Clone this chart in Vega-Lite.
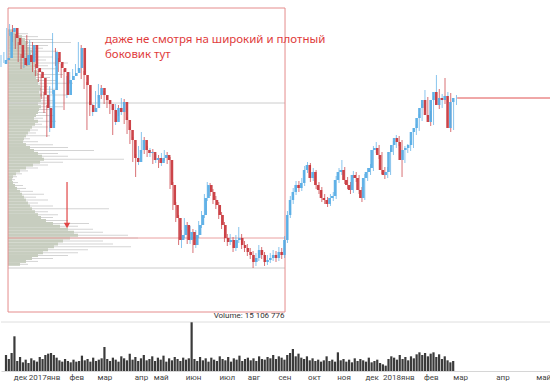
{
"$schema": "https://vega.github.io/schema/vega-lite/v6.json",
"width": 550, "height": 371, "padding": 0,
"autosize": {"type": "pad"},
"background": "white",
"config": {"view": {"stroke": null}},
"datasets": {
"c": [
{"d":0,"o":336,"h":345,"l":333,"c":340,"v":24},{"d":2,"o":340,"h":348,"l":337,"c":342,"v":18},{"d":4,"o":342,"h":372,"l":339,"c":368,"v":27},{"d":6,"o":368,"h":376,"l":364,"c":372,"v":52},
{"d":8,"o":372,"h":375,"l":358,"c":362,"v":15},{"d":10,"o":362,"h":366,"l":351,"c":355,"v":21},{"d":12,"o":355,"h":358,"l":338,"c":342,"v":13},{"d":14,"o":342,"h":346,"l":331,"c":335,"v":17},
{"d":16,"o":335,"h":350,"l":332,"c":345,"v":12},{"d":18,"o":345,"h":365,"l":334,"c":338,"v":19},{"d":20,"o":338,"h":360,"l":335,"c":355,"v":16},{"d":22,"o":355,"h":358,"l":328,"c":332,"v":14},
{"d":24,"o":332,"h":336,"l":324,"c":328,"v":21},{"d":26,"o":328,"h":331,"l":318,"c":322,"v":18},{"d":28,"o":322,"h":325,"l":301,"c":305,"v":24},{"d":30,"o":305,"h":308,"l":287,"c":292,"v":26},
{"d":32,"o":292,"h":295,"l":263,"c":272,"v":27},{"d":34,"o":272,"h":314,"l":268,"c":310,"v":24},{"d":36,"o":310,"h":367,"l":306,"c":348,"v":20},{"d":38,"o":348,"h":352,"l":334,"c":338,"v":16},
{"d":40,"o":338,"h":342,"l":328,"c":332,"v":14},{"d":42,"o":332,"h":336,"l":322,"c":328,"v":18},{"d":44,"o":328,"h":331,"l":290,"c":305,"v":15},{"d":46,"o":305,"h":324,"l":302,"c":320,"v":13},
{"d":48,"o":320,"h":328,"l":317,"c":324,"v":17},{"d":50,"o":324,"h":331,"l":320,"c":327,"v":14},{"d":52,"o":327,"h":336,"l":324,"c":332,"v":15},{"d":54,"o":332,"h":358,"l":329,"c":352,"v":23},
{"d":56,"o":352,"h":355,"l":321,"c":325,"v":16},{"d":58,"o":325,"h":329,"l":311,"c":315,"v":18},{"d":60,"o":315,"h":318,"l":270,"c":295,"v":14},{"d":62,"o":295,"h":299,"l":284,"c":288,"v":20},
{"d":64,"o":288,"h":296,"l":284,"c":292,"v":15},{"d":66,"o":292,"h":309,"l":289,"c":305,"v":17},{"d":68,"o":305,"h":316,"l":302,"c":312,"v":19},{"d":70,"o":312,"h":315,"l":301,"c":305,"v":36},
{"d":72,"o":305,"h":309,"l":296,"c":300,"v":18},{"d":74,"o":300,"h":304,"l":292,"c":296,"v":15},{"d":76,"o":296,"h":299,"l":286,"c":290,"v":20},{"d":78,"o":290,"h":294,"l":265,"c":278,"v":17},
{"d":80,"o":278,"h":296,"l":275,"c":292,"v":14},{"d":82,"o":292,"h":295,"l":284,"c":288,"v":22},{"d":84,"o":288,"h":302,"l":285,"c":298,"v":19},{"d":86,"o":298,"h":301,"l":276,"c":280,"v":16},
{"d":88,"o":280,"h":283,"l":266,"c":270,"v":26},{"d":90,"o":270,"h":273,"l":256,"c":260,"v":17},{"d":92,"o":260,"h":263,"l":238,"c":242,"v":21},{"d":94,"o":242,"h":246,"l":223,"c":238,"v":15},
{"d":96,"o":238,"h":254,"l":235,"c":250,"v":19},{"d":98,"o":250,"h":268,"l":247,"c":260,"v":24},{"d":100,"o":260,"h":263,"l":246,"c":250,"v":16},{"d":102,"o":250,"h":254,"l":243,"c":247,"v":18},
{"d":104,"o":247,"h":252,"l":243,"c":248,"v":22},{"d":106,"o":248,"h":251,"l":236,"c":240,"v":15},{"d":108,"o":240,"h":246,"l":237,"c":242,"v":20},{"d":110,"o":242,"h":245,"l":232,"c":237,"v":17},
{"d":112,"o":237,"h":247,"l":234,"c":242,"v":23},{"d":114,"o":242,"h":250,"l":239,"c":245,"v":14},{"d":116,"o":245,"h":248,"l":236,"c":240,"v":19},{"d":118,"o":240,"h":243,"l":211,"c":215,"v":16},
{"d":120,"o":215,"h":218,"l":190,"c":195,"v":21},{"d":122,"o":195,"h":198,"l":178,"c":182,"v":18},{"d":124,"o":182,"h":185,"l":155,"c":160,"v":15},{"d":126,"o":160,"h":170,"l":152,"c":165,"v":20},
{"d":128,"o":165,"h":182,"l":162,"c":175,"v":17},{"d":130,"o":175,"h":178,"l":156,"c":160,"v":19},{"d":132,"o":160,"h":174,"l":156,"c":168,"v":73},{"d":134,"o":168,"h":171,"l":147,"c":155,"v":18},
{"d":136,"o":155,"h":170,"l":152,"c":165,"v":15},{"d":138,"o":165,"h":179,"l":162,"c":175,"v":21},{"d":140,"o":175,"h":189,"l":172,"c":185,"v":16},{"d":142,"o":185,"h":206,"l":182,"c":202,"v":19},
{"d":144,"o":202,"h":218,"l":199,"c":215,"v":14},{"d":146,"o":215,"h":217,"l":204,"c":208,"v":20},{"d":148,"o":208,"h":211,"l":196,"c":200,"v":17},{"d":150,"o":200,"h":204,"l":191,"c":195,"v":15},
{"d":152,"o":195,"h":198,"l":181,"c":185,"v":22},{"d":154,"o":185,"h":188,"l":171,"c":175,"v":18},{"d":156,"o":175,"h":178,"l":158,"c":162,"v":16},{"d":158,"o":162,"h":166,"l":154,"c":158,"v":21},
{"d":160,"o":158,"h":166,"l":155,"c":160,"v":14},{"d":162,"o":160,"h":163,"l":148,"c":152,"v":19},{"d":164,"o":152,"h":165,"l":149,"c":160,"v":17},{"d":166,"o":160,"h":173,"l":157,"c":162,"v":23},
{"d":168,"o":162,"h":166,"l":151,"c":155,"v":15},{"d":170,"o":155,"h":159,"l":148,"c":152,"v":18},{"d":172,"o":152,"h":156,"l":144,"c":148,"v":20},{"d":174,"o":148,"h":152,"l":141,"c":145,"v":16},
{"d":176,"o":145,"h":149,"l":132,"c":138,"v":19},{"d":178,"o":138,"h":147,"l":134,"c":142,"v":15},{"d":180,"o":142,"h":155,"l":139,"c":150,"v":22},{"d":182,"o":150,"h":153,"l":141,"c":145,"v":18},
{"d":184,"o":145,"h":148,"l":134,"c":138,"v":17},{"d":186,"o":138,"h":145,"l":135,"c":140,"v":21},{"d":188,"o":140,"h":147,"l":137,"c":142,"v":19},{"d":190,"o":142,"h":150,"l":139,"c":145,"v":24},
{"d":192,"o":145,"h":149,"l":138,"c":142,"v":18},{"d":194,"o":142,"h":153,"l":139,"c":148,"v":22},{"d":196,"o":148,"h":152,"l":141,"c":145,"v":20},{"d":198,"o":145,"h":164,"l":142,"c":160,"v":17},
{"d":200,"o":160,"h":189,"l":157,"c":185,"v":24},{"d":202,"o":185,"h":204,"l":182,"c":200,"v":27},{"d":204,"o":200,"h":212,"l":196,"c":208,"v":33},{"d":206,"o":208,"h":219,"l":205,"c":215,"v":22},
{"d":208,"o":215,"h":219,"l":208,"c":212,"v":26},{"d":210,"o":212,"h":222,"l":209,"c":217,"v":20},{"d":212,"o":217,"h":234,"l":214,"c":230,"v":18},{"d":214,"o":230,"h":238,"l":227,"c":235,"v":22},
{"d":216,"o":235,"h":237,"l":218,"c":222,"v":16},{"d":218,"o":222,"h":232,"l":219,"c":228,"v":19},{"d":220,"o":228,"h":230,"l":211,"c":215,"v":15},{"d":222,"o":215,"h":218,"l":206,"c":210,"v":17},
{"d":224,"o":210,"h":213,"l":198,"c":202,"v":14},{"d":226,"o":202,"h":206,"l":196,"c":200,"v":16},{"d":228,"o":200,"h":203,"l":193,"c":196,"v":22},{"d":230,"o":196,"h":206,"l":194,"c":202,"v":15},
{"d":232,"o":202,"h":208,"l":199,"c":204,"v":17},{"d":234,"o":204,"h":224,"l":201,"c":220,"v":14},{"d":236,"o":220,"h":232,"l":217,"c":228,"v":28},{"d":238,"o":228,"h":240,"l":225,"c":230,"v":16},
{"d":240,"o":230,"h":233,"l":216,"c":220,"v":18},{"d":242,"o":220,"h":223,"l":211,"c":215,"v":14},{"d":244,"o":215,"h":218,"l":206,"c":210,"v":17},{"d":246,"o":210,"h":229,"l":207,"c":225,"v":13},
{"d":248,"o":225,"h":228,"l":218,"c":222,"v":19},{"d":250,"o":222,"h":225,"l":206,"c":210,"v":15},{"d":252,"o":210,"h":213,"l":198,"c":202,"v":18},{"d":254,"o":202,"h":226,"l":200,"c":222,"v":16},
{"d":256,"o":222,"h":232,"l":219,"c":228,"v":14},{"d":258,"o":228,"h":236,"l":225,"c":232,"v":20},{"d":260,"o":232,"h":254,"l":229,"c":250,"v":13},{"d":262,"o":250,"h":258,"l":247,"c":252,"v":15},
{"d":264,"o":252,"h":255,"l":241,"c":245,"v":17},{"d":266,"o":245,"h":248,"l":226,"c":230,"v":12},{"d":268,"o":230,"h":233,"l":221,"c":225,"v":10},{"d":270,"o":225,"h":233,"l":222,"c":228,"v":8},
{"d":272,"o":228,"h":252,"l":225,"c":248,"v":18},{"d":274,"o":248,"h":259,"l":245,"c":255,"v":22},{"d":276,"o":255,"h":265,"l":252,"c":262,"v":20},{"d":278,"o":262,"h":264,"l":254,"c":258,"v":17},
{"d":280,"o":258,"h":260,"l":223,"c":240,"v":24},{"d":282,"o":240,"h":254,"l":237,"c":250,"v":18},{"d":284,"o":250,"h":256,"l":247,"c":252,"v":21},{"d":286,"o":252,"h":259,"l":249,"c":255,"v":16},
{"d":288,"o":255,"h":272,"l":252,"c":268,"v":22},{"d":290,"o":268,"h":276,"l":265,"c":272,"v":19},{"d":292,"o":272,"h":286,"l":269,"c":282,"v":25},{"d":294,"o":282,"h":296,"l":279,"c":292,"v":28},
{"d":296,"o":292,"h":310,"l":289,"c":300,"v":24},{"d":298,"o":300,"h":303,"l":281,"c":285,"v":27},{"d":300,"o":285,"h":289,"l":274,"c":278,"v":22},{"d":302,"o":278,"h":304,"l":275,"c":300,"v":26},
{"d":304,"o":300,"h":325,"l":296,"c":308,"v":28},{"d":306,"o":308,"h":311,"l":291,"c":295,"v":21},{"d":308,"o":295,"h":306,"l":292,"c":302,"v":25},{"d":310,"o":302,"h":322,"l":296,"c":300,"v":18},
{"d":312,"o":300,"h":308,"l":297,"c":304,"v":22},{"d":314,"o":304,"h":307,"l":268,"c":272,"v":16},{"d":316,"o":272,"h":302,"l":270,"c":298,"v":13},{"d":318,"o":298,"h":305,"l":295,"c":302,"v":15}
],
"p": [
{"p":373.5,"f":1,"l":1.6},{"p":370.5,"f":2,"l":4},{"p":367.5,"f":2.8,"l":6},{"p":364.5,"f":3.4,"l":9},{"p":361.5,"f":4,"l":12.6},{"p":358.5,"f":3.8,"l":8},
{"p":355.5,"f":4.4,"l":7},{"p":352.5,"f":4.8,"l":10},{"p":349.5,"f":4.6,"l":6},{"p":346.5,"f":5.2,"l":9},{"p":343.5,"f":5,"l":7.6},{"p":340.5,"f":5.4,"l":12},
{"p":337.5,"f":5.6,"l":8},{"p":334.5,"f":5.2,"l":10},{"p":331.5,"f":5.8,"l":7},{"p":328.5,"f":6,"l":11},{"p":325.5,"f":5.6,"l":8.4},{"p":322.5,"f":6.2,"l":9.6},
{"p":319.5,"f":6,"l":13},{"p":316.5,"f":6.4,"l":8},{"p":313.5,"f":6.6,"l":10},{"p":310.5,"f":6.2,"l":9},{"p":307.5,"f":6.8,"l":11.6},{"p":304.5,"f":6.4,"l":8},
{"p":301.5,"f":6.6,"l":9.4},{"p":298.5,"f":6,"l":8.4},{"p":295.5,"f":6.6,"l":11},{"p":292.5,"f":6.2,"l":9},{"p":289.5,"f":6,"l":7.6},{"p":286.5,"f":5.6,"l":9.2},
{"p":283.5,"f":5.2,"l":7},{"p":280.5,"f":6,"l":9.6},{"p":277.5,"f":5.4,"l":6.8},{"p":274.5,"f":4.8,"l":8},{"p":271.5,"f":4.4,"l":6},{"p":268.5,"f":4,"l":5.6},
{"p":265.5,"f":3.6,"l":8.4},{"p":262.5,"f":3.2,"l":4.4},{"p":259.5,"f":3,"l":6},{"p":256.5,"f":3.6,"l":9},{"p":253.5,"f":4.4,"l":12},{"p":250.5,"f":5.2,"l":17.2},
{"p":247.5,"f":6,"l":10},{"p":244.5,"f":6.8,"l":12},{"p":241.5,"f":7.2,"l":23.2},{"p":238.5,"f":6.4,"l":11},{"p":235.5,"f":5,"l":8},{"p":232.5,"f":3.6,"l":6},
{"p":229.5,"f":2.4,"l":4},{"p":226.5,"f":1.6,"l":2.8},{"p":223.5,"f":1,"l":1.8},{"p":220.5,"f":0.8,"l":1.4},{"p":217.5,"f":1,"l":2},{"p":214.5,"f":1.4,"l":3},
{"p":211.5,"f":1.8,"l":3.6},{"p":208.5,"f":2.4,"l":5},{"p":205.5,"f":2.8,"l":7.2},{"p":202.5,"f":3.2,"l":5.6},{"p":199.5,"f":3.6,"l":8},{"p":196.5,"f":4,"l":6},
{"p":193.5,"f":4.4,"l":9},{"p":190.5,"f":4.8,"l":20.2},{"p":187.5,"f":5.4,"l":8},{"p":184.5,"f":6,"l":10},{"p":181.5,"f":6.6,"l":9},{"p":178.5,"f":7.6,"l":12},
{"p":175.5,"f":9,"l":16.2},{"p":172.5,"f":10.4,"l":14},{"p":169.5,"f":12,"l":17},{"p":166.5,"f":13.2,"l":19},{"p":163.5,"f":14,"l":24},{"p":160.5,"f":12.4,"l":26},
{"p":157.5,"f":11,"l":19},{"p":154.5,"f":10,"l":21},{"p":151.5,"f":9.2,"l":24.6},{"p":148.5,"f":8,"l":16},{"p":145.5,"f":7,"l":14},{"p":142.5,"f":6,"l":12},
{"p":139.5,"f":4.8,"l":9},{"p":136.5,"f":3.6,"l":6},{"p":133.5,"f":2.4,"l":4}
]
},
"layer": [
{"data": {"name": "p"}, "mark": {"type": "bar", "orient": "horizontal", "size": 1, "color": "#d4d4d4"},
 "encoding": {"x": {"field": "l", "type": "quantitative", "scale": {"domain": [-1.4, 108.6], "nice": false, "zero": false}, "axis": null},
  "y": {"field": "p", "type": "quantitative", "scale": {"domain": [29, 400], "nice": false, "zero": false}, "axis": null}}},
{"data": {"name": "p"}, "mark": {"type": "bar", "orient": "horizontal", "size": 3, "color": "#c7cdbf"},
 "encoding": {"x": {"field": "f", "type": "quantitative", "scale": {"domain": [-1.4, 108.6], "nice": false, "zero": false}, "axis": null},
  "y": {"field": "p", "type": "quantitative", "scale": {"domain": [29, 400], "nice": false, "zero": false}, "axis": null}}},
{"data": {"values": [{"from": 4.9, "to": 198.3, "level": 297}, {"from": 4.9, "to": 198.3, "level": 132}]},
 "mark": {"type": "rule", "color": "#cccccc", "strokeWidth": 1}, "encoding": {
  "x": {"field": "from", "type": "quantitative", "scale": {"domain": [0, 384], "nice": false, "zero": false}, "axis": null}, "x2": {"field": "to"},
  "y": {"field": "level", "type": "quantitative", "scale": {"domain": [29, 400], "nice": false, "zero": false}, "axis": null}}},
{"data": {"values": [{"from": 4.9, "to": 198.3, "level": 162}]},
 "mark": {"type": "rule", "color": "#eaa0a0", "strokeWidth": 1}, "encoding": {
  "x": {"field": "from", "type": "quantitative", "scale": {"domain": [0, 384], "nice": false, "zero": false}, "axis": null}, "x2": {"field": "to"},
  "y": {"field": "level", "type": "quantitative", "scale": {"domain": [29, 400], "nice": false, "zero": false}, "axis": null}}},
{"data": {"values": [{"level": 78}]},
 "mark": {"type": "rule", "color": "#dedede", "strokeWidth": 1}, "encoding": {
  "y": {"field": "level", "type": "quantitative", "scale": {"domain": [29, 400], "nice": false, "zero": false}, "axis": null}}},
{"data": {"values": [{"from": 4.9, "to": 198.3, "top": 392, "bottom": 88}]},
 "mark": {"type": "rect", "fillOpacity": 0, "stroke": "#e58c8c", "strokeWidth": 1}, "encoding": {
  "x": {"field": "from", "type": "quantitative", "scale": {"domain": [0, 384], "nice": false, "zero": false}, "axis": null}, "x2": {"field": "to"},
  "y": {"field": "top", "type": "quantitative", "scale": {"domain": [29, 400], "nice": false, "zero": false}, "axis": null}, "y2": {"field": "bottom"}}},
{"data": {"name": "c"}, "mark": {"type": "rule", "strokeWidth": 1, "opacity": 0.7},
 "encoding": {"x": {"field": "d", "type": "quantitative", "scale": {"domain": [0, 384], "nice": false, "zero": false}, "axis": null},
  "y": {"field": "l", "type": "quantitative", "scale": {"domain": [29, 400], "nice": false, "zero": false}, "axis": null}, "y2": {"field": "h"},
  "color": {"condition": {"test": "datum.c >= datum.o", "value": "#55abe5"}, "value": "#c8343a"}}},
{"data": {"name": "c"}, "mark": {"type": "bar", "size": 2.6, "opacity": 0.92},
 "encoding": {"x": {"field": "d", "type": "quantitative", "scale": {"domain": [0, 384], "nice": false, "zero": false}, "axis": null},
  "y": {"field": "o", "type": "quantitative", "scale": {"domain": [29, 400], "nice": false, "zero": false}, "axis": null}, "y2": {"field": "c"},
  "color": {"condition": {"test": "datum.c >= datum.o", "value": "#55abe5"}, "value": "#c8343a"}}},
{"data": {"name": "c"}, "mark": {"type": "bar", "size": 2.2, "color": "#3a3a3a"},
 "encoding": {"x": {"field": "d", "type": "quantitative", "scale": {"domain": [0, 384], "nice": false, "zero": false},
   "axis": {"title": null, "values": [10,27,50,70,96,110,133,157,176,198,219,240,260,279,302,323,353,382],
    "labelExpr": "['дек','2017янв','фев','мар','апр','май','июн','июл','авг','сен','окт','ноя','дек','2018янв','фев','мар','апр','май'][indexof([10,27,50,70,96,110,133,157,176,198,219,240,260,279,302,323,353,382], datum.value)]",
    "ticks": false, "grid": false, "domainColor": "#d6d6d6", "labelFontSize": 8, "labelColor": "#444444", "labelFont": "Roboto", "labelPadding": 2, "labelOverlap": false, "labelFlush": false}},
  "y": {"field": "v", "type": "quantitative", "scale": {"domain": [0, 556], "nice": false, "zero": true}, "axis": null}}},
{"data": {"values": [{"from": 318.5, "to": 384, "level": 302}]},
 "mark": {"type": "rule", "color": "#e05050", "strokeWidth": 1}, "encoding": {
  "x": {"field": "from", "type": "quantitative", "scale": {"domain": [0, 384], "nice": false, "zero": false}, "axis": null}, "x2": {"field": "to"},
  "y": {"field": "level", "type": "quantitative", "scale": {"domain": [29, 400], "nice": false, "zero": false}, "axis": null}}},
{"data": {"values": [{"day": 46.1, "top": 218, "bottom": 177}]},
 "mark": {"type": "rule", "color": "#e04545", "strokeWidth": 1.2}, "encoding": {
  "x": {"field": "day", "type": "quantitative", "scale": {"domain": [0, 384], "nice": false, "zero": false}, "axis": null},
  "y": {"field": "top", "type": "quantitative", "scale": {"domain": [29, 400], "nice": false, "zero": false}, "axis": null}, "y2": {"field": "bottom"}}},
{"data": {"values": [{"day": 46.1, "level": 174.5}]},
 "mark": {"type": "point", "shape": "triangle-down", "size": 40, "filled": true, "color": "#e04545", "opacity": 1}, "encoding": {
  "x": {"field": "day", "type": "quantitative", "scale": {"domain": [0, 384], "nice": false, "zero": false}, "axis": null},
  "y": {"field": "level", "type": "quantitative", "scale": {"domain": [29, 400], "nice": false, "zero": false}, "axis": null}}},
{"data": {"values": [{"day": 72.6, "level": 356.7}]},
 "mark": {"type": "text", "align": "left", "baseline": "alphabetic", "font": "Noto Sans", "fontSize": 11.5, "lineHeight": 15, "color": "#e03c3c"},
 "encoding": {
  "x": {"field": "day", "type": "quantitative", "scale": {"domain": [0, 384], "nice": false, "zero": false}, "axis": null},
  "y": {"field": "level", "type": "quantitative", "scale": {"domain": [29, 400], "nice": false, "zero": false}, "axis": null},
  "text": {"value": ["даже не смотря на широкий и плотный", "боковик тут"]}}},
{"data": {"values": [{"day": 198, "level": 84, "label": "Volume: 15 106 776"}]},
 "mark": {"type": "text", "align": "right", "baseline": "middle", "font": "Roboto", "fontSize": 8, "color": "#333333"},
 "encoding": {
  "x": {"field": "day", "type": "quantitative", "scale": {"domain": [0, 384], "nice": false, "zero": false}, "axis": null},
  "y": {"field": "level", "type": "quantitative", "scale": {"domain": [29, 400], "nice": false, "zero": false}, "axis": null},
  "text": {"field": "label"}}}
],
"resolve": {"scale": {"x": "independent", "y": "independent"}}
}
